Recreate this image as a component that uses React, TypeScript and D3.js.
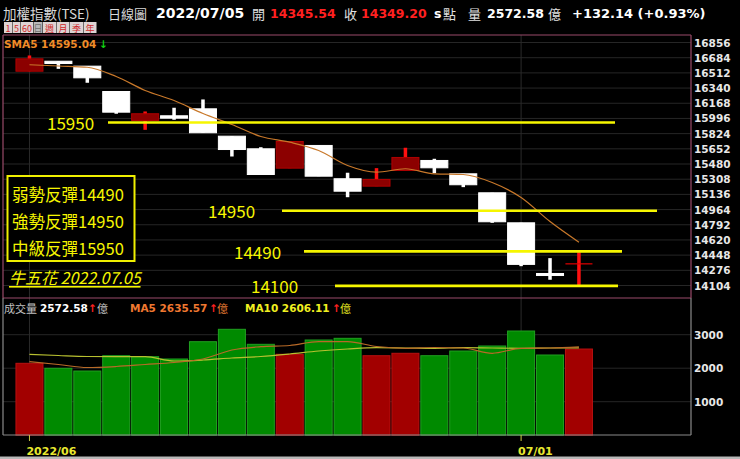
import React, { useEffect } from 'react';
import * as d3 from 'd3';

// Trading days shown on the daily chart
const dates = [
  '06/08', '06/09', '06/10', '06/13', '06/14', '06/15', '06/16', '06/17', '06/20', '06/21',
  '06/22', '06/23', '06/24', '06/27', '06/28', '06/29', '06/30', '07/01', '07/04', '07/05',
];
const opens = [16531, 16644, 16588, 16301, 15973, 16026, 16105, 15795, 15652, 15433, 15690, 15313, 15229, 15407, 15520, 15369, 15154, 14814, 14240, 14345.54];
const highs = [16709, 16644, 16588, 16301, 16075, 16117, 16211, 15795, 15670, 15735, 15690, 15381, 15433, 15664, 15539, 15369, 15154, 14814, 14414, 14481];
const lows = [16531, 16558, 16400, 16049, 15867, 15981, 15834, 15565, 15361, 15433, 15342, 15104, 15229, 15407, 15376, 15218, 14814, 14323, 14169, 14093];
const closes = [16671, 16618, 16456, 16067, 16049, 15999, 15834, 15644, 15361, 15735, 15342, 15172, 15305, 15554, 15437, 15245, 14825.73, 14343.08, 14217.06, 14349.2];
const closeBeforeFirst = 16512;
const sma5 = [16604, 16590, 16576, 16471, 16313, 16199, 16052, 15928, 15792, 15727, 15633, 15463, 15387, 15426, 15369, 15361, 15270, 15101, 14829, 14595.04];

// Turnover in 億
const volumes = [2146, 1997, 1916, 2373, 2343, 2275, 2791, 3161, 2713, 2415, 2842, 2892, 2373, 2445, 2373, 2513, 2663, 3110, 2394, 2572.58];
const volMa5 = [2194, 2110, 2021, 2051, 2110, 2170, 2275, 2543, 2642, 2678, 2791, 2791, 2648, 2594, 2618, 2603, 2445, 2594, 2603, 2635.57];
const volMa10 = [2415, 2379, 2349, 2343, 2343, 2215, 2245, 2304, 2349, 2424, 2513, 2573, 2612, 2603, 2594, 2612, 2603, 2594, 2603, 2606.11];

const priceTicks = [16856, 16684, 16512, 16340, 16168, 15996, 15824, 15652, 15480, 15308, 15136, 14964, 14792, 14620, 14448, 14276, 14104];
const volTicks = [1000, 2000, 3000];
const xTickDates = ['06/08', '07/01'];
const xTickTexts = ['2022/06', '07/01'];

// Rebound levels marked on the price panel
const levels = [15950, 14950, 14490, 14100];
const levelTexts = ['15950', '14950', '14490', '14100'];
const notes = ['弱勢反彈14490', '強勢反彈14950', '中級反彈15950'];
const signature = '牛五花 2022.07.05';
const periodButtons = ['1', '5', '60', '日', '週', '月', '季', '年'];

// Layout
const W = 740;
const H = 459;
const P = { left: 3, right: 691, top: 35, mid: 298, bottom: 435 };
const levelSpan = [
  { x1: 108, x2: 615, lx: 47 },
  { x1: 282, x2: 657, lx: 208 },
  { x1: 304, x2: 622, lx: 234 },
  { x1: 335, x2: 618, lx: 251 },
];
const buttonWidths = [8, 8, 12, 9, 13, 13, 13, 13];

const NUM = '"DejaVu Sans", Verdana, sans-serif';
const CJK = '"Noto Sans CJK TC", "Noto Sans", sans-serif';

export default function App() {
  useEffect(() => {
    document.body.style.margin = '0';
    document.body.style.background = '#000';
  }, []);

  const x = d3.scaleBand<string>().domain(dates).range([15, 593.4]).paddingInner(0.066).paddingOuter(0.033);
  const bw = x.bandwidth();
  const cx = (d: string) => (x(d) as number) + bw / 2;
  const y = d3.scaleLinear().domain([14104, 16856]).range([285.5, 42.5]);
  const yv = d3.scaleLinear().domain([0, 3000]).range([435.2, 334.7]);

  const smaLine = d3.line<number>().x((_, i) => cx(dates[i])).y((v) => y(v)).curve(d3.curveMonotoneX);
  const vma5Line = d3.line<number>().x((_, i) => cx(dates[i])).y((v) => yv(v)).curve(d3.curveMonotoneX);
  const vma10Line = d3.line<number>().x((_, i) => cx(dates[i])).y((v) => yv(v)).curve(d3.curveMonotoneX);

  let bx = 4;
  const buttons = periodButtons.map((t, i) => {
    const b = { t, x: bx, w: buttonWidths[i] };
    bx += buttonWidths[i] + 0.5;
    return b;
  });

  return (
    <div style={{ position: 'absolute', left: 0, top: 0 }}>
      <svg width={W} height={H} style={{ display: 'block', background: '#000' }}>
        <rect x={0} y={0} width={W} height={H} fill="#000" />

        {/* header */}
        <g fontSize={12.5} dominantBaseline="central">
          <text x={3} y={13} fill="#d8d8d8" fontFamily={CJK} fontSize={13.5}>加權指數(TSE)</text>
          <text x={108} y={13} fill="#d8d8d8" fontFamily={CJK} fontSize={13}>日線圖</text>
          <text x={156} y={13} fill="#fff" fontFamily={NUM} fontWeight="bold" fontSize={14}>2022/07/05</text>
          <text x={252} y={13} fill="#e0e0e0" fontFamily={CJK} fontSize={13}>開</text>
          <text x={270} y={13} fill="#ff2020" fontFamily={NUM} fontWeight="bold">14345.54</text>
          <text x={344} y={13} fill="#e0e0e0" fontFamily={CJK} fontSize={13}>收</text>
          <text x={361} y={13} fill="#ff2020" fontFamily={NUM} fontWeight="bold">14349.20</text>
          <text x={434} y={13} fill="#fff" fontFamily={NUM} fontWeight="bold">s</text>
          <text x={443} y={13} fill="#e0e0e0" fontFamily={CJK} fontSize={13}>點</text>
          <text x={468} y={13} fill="#e0e0e0" fontFamily={CJK} fontSize={13}>量</text>
          <text x={487} y={13} fill="#fff" fontFamily={NUM} fontWeight="bold">2572.58</text>
          <text x={548} y={13} fill="#e0e0e0" fontFamily={CJK} fontSize={13}>億</text>
          <text x={572} y={13} fill="#fff" fontFamily={NUM} fontWeight="bold" fontSize={13}>+132.14 (+0.93%)</text>
        </g>

        {/* period buttons */}
        {buttons.map((b) => (
          <g key={b.t}>
            <rect x={b.x} y={22} width={b.w} height={11} fill={b.t === '日' ? '#b8b8b8' : '#ddd4d4'} />
            <text x={b.x + b.w / 2} y={28} textAnchor="middle" dominantBaseline="central" fontSize={9}
              fontFamily={CJK} fill={b.t === '日' ? '#707070' : '#d02828'}>{b.t}</text>
          </g>
        ))}

        {/* panel grid */}
        {priceTicks.map((t) => (
          <line key={t} x1={P.left} x2={P.right} y1={y(t)} y2={y(t)} stroke="#262626" strokeWidth={1} />
        ))}
        {volTicks.map((t) => (
          <line key={t} x1={P.left} x2={P.right} y1={yv(t)} y2={yv(t)} stroke="#262626" strokeWidth={1} />
        ))}
        {xTickDates.map((d) => (
          <line key={d} x1={cx(d)} x2={cx(d)} y1={P.top} y2={P.bottom} stroke="#2a2a2a" strokeWidth={1} />
        ))}

        {/* candles */}
        {dates.map((d, i) => {
          const o = opens[i];
          const c = closes[i];
          const up = c >= o;
          const top = y(Math.max(o, c));
          const bot = y(Math.min(o, c));
          const h = bot - top;
          const xc = cx(d);
          return (
            <g key={d}>
              <rect x={xc - 1.75} y={y(highs[i])} width={3.5} height={y(lows[i]) - y(highs[i])}
                fill={up ? '#ff1010' : '#ffffff'} />
              {h < 2 ? (
                <line x1={x(d)} x2={(x(d) as number) + bw} y1={top} y2={top} stroke={up ? '#e00000' : '#fff'} strokeWidth={1.2} />
              ) : (
                <rect x={x(d)} y={top} width={bw} height={h}
                  fill={up ? '#8c0000' : '#ffffff'} stroke={up ? '#b00000' : '#ffffff'} strokeWidth={1} />
              )}
            </g>
          );
        })}

        {/* SMA5 */}
        <path d={smaLine(sma5) || ''} fill="none" stroke="#c8782a" strokeWidth={1.2} />

        {/* rebound levels */}
        {levels.map((v, i) => (
          <g key={v}>
            <line x1={levelSpan[i].x1} x2={levelSpan[i].x2} y1={y(v)} y2={y(v)} stroke="#f6f600" strokeWidth={2.6} />
            <text x={levelSpan[i].lx} y={y(v)} dominantBaseline="central" fontSize={17} fontFamily={CJK}
              fill="#f6f600">{levelTexts[i]}</text>
          </g>
        ))}

        {/* notes box */}
        <rect x={7.5} y={176} width={127} height={85} fill="#000" stroke="#f0f000" strokeWidth={2} />
        {notes.map((t, i) => (
          <text key={t} x={12} y={193.5 + i * 27} dominantBaseline="central" fontSize={16.5} fontFamily={CJK}
            fill="#f6f600">{t}</text>
        ))}
        <text x={9} y={277} dominantBaseline="central" fontSize={16} fontFamily={CJK} fontStyle="italic"
          textDecoration="underline" fill="#f6f600">{signature}</text>

        {/* SMA legend */}
        <text x={4} y={44} dominantBaseline="central" fontSize={10.5} fontFamily={NUM} fontWeight="bold" fill="#f08c28">
          SMA5 {sma5[sma5.length - 1].toFixed(2)}
        </text>
        <text x={99} y={44} dominantBaseline="central" fontSize={10.5} fontFamily={NUM} fontWeight="bold" fill="#10d010">↓</text>

        {/* volume bars */}
        {dates.map((d, i) => {
          const prev = i === 0 ? closeBeforeFirst : closes[i - 1];
          const up = closes[i] >= prev;
          return (
            <rect key={d} x={x(d)} y={yv(volumes[i])} width={bw} height={yv(0) - yv(volumes[i])}
              fill={up ? '#a20000' : '#008a00'} stroke={up ? '#b81010' : '#20a020'} strokeWidth={1} />
          );
        })}
        <path d={vma10Line(volMa10) || ''} fill="none" stroke="#b8c030" strokeWidth={1.2} />
        <path d={vma5Line(volMa5) || ''} fill="none" stroke="#b86a28" strokeWidth={1.2} />

        {/* volume legend */}
        <g dominantBaseline="central" fontSize={10.5}>
          <text x={4} y={308} fill="#c0c0c0" fontFamily={CJK} fontSize={11}>成交量</text>
          <text x={40} y={308} fill="#fff" fontFamily={NUM} fontWeight="bold">{volumes[volumes.length - 1].toFixed(2)}</text>
          <text x={88} y={308} fill="#ff2020" fontFamily={NUM} fontWeight="bold">↑</text>
          <text x={97} y={308} fill="#c0c0c0" fontFamily={CJK} fontSize={11}>億</text>
          <text x={130} y={308} fill="#f07830" fontFamily={NUM} fontWeight="bold">MA5 {volMa5[volMa5.length - 1].toFixed(2)}</text>
          <text x={209} y={308} fill="#ff2020" fontFamily={NUM} fontWeight="bold">↑</text>
          <text x={217} y={308} fill="#e07830" fontFamily={CJK} fontSize={11}>億</text>
          <text x={245} y={308} fill="#f0f020" fontFamily={NUM} fontWeight="bold">MA10 {volMa10[volMa10.length - 1].toFixed(2)}</text>
          <text x={332} y={308} fill="#ff2020" fontFamily={NUM} fontWeight="bold">↑</text>
          <text x={340} y={308} fill="#e0e020" fontFamily={CJK} fontSize={11}>億</text>
        </g>

        {/* panel frames */}
        <line x1={P.left} x2={P.right} y1={P.top} y2={P.top} stroke="#9a4a6a" strokeWidth={1.2} />
        <line x1={P.left} x2={P.right} y1={P.mid} y2={P.mid} stroke="#9a4a6a" strokeWidth={1.2} />
        <line x1={P.left} x2={P.left} y1={P.top} y2={P.mid} stroke="#9a4a6a" strokeWidth={1.2} />
        <line x1={P.right} x2={P.right} y1={P.top} y2={P.mid} stroke="#9a4a6a" strokeWidth={1.2} />
        <line x1={P.left} x2={P.left} y1={P.mid} y2={P.bottom} stroke="#8a8a8a" strokeWidth={1.2} />
        <line x1={P.right} x2={P.right} y1={P.mid} y2={P.bottom} stroke="#8a8a8a" strokeWidth={1.2} />
        <line x1={P.left} x2={P.right} y1={P.bottom} y2={P.bottom} stroke="#8a8a8a" strokeWidth={1.2} />

        {/* axes */}
        {priceTicks.map((t) => (
          <text key={t} x={694} y={y(t)} dominantBaseline="central" fontSize={10.5} fontFamily={NUM}
            fontWeight="bold" fill="#e8e8e8">{t}</text>
        ))}
        {volTicks.map((t) => (
          <text key={t} x={694} y={yv(t)} dominantBaseline="central" fontSize={10.5} fontFamily={NUM}
            fontWeight="bold" fill="#e8e8e8">{t}</text>
        ))}
        {xTickDates.map((d, i) => (
          <g key={d}>
            <line x1={cx(d)} x2={cx(d)} y1={P.bottom} y2={P.bottom + 6} stroke="#c8c840" strokeWidth={1} />
            <text x={cx(d) - 3} y={451} dominantBaseline="central" fontSize={11} fontFamily={NUM}
              fontWeight="bold" fill="#e8e830">{xTickTexts[i]}</text>
          </g>
        ))}

        <rect x={0} y={456.5} width={W} height={2.5} fill="#b8b8b8" />
      </svg>
    </div>
  );
}
